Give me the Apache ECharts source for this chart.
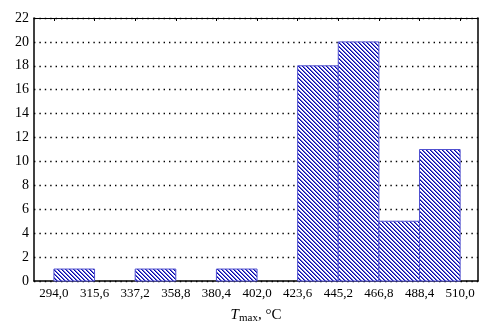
<!DOCTYPE html>
<html>
<head>
<meta charset="utf-8">
<script src="https://cdn.jsdelivr.net/npm/echarts@6/dist/echarts.min.js"></script>
<style>html,body{margin:0;padding:0;background:#fff;}#c{width:481px;height:329px;}</style>
</head>
<body>
<div id="c"></div>
<script>
// Data
var binStarts = [294.0, 315.6, 337.2, 358.8, 380.4, 402.0, 423.6, 445.2, 466.8, 488.4];
var binEnds   = [315.6, 337.2, 358.8, 380.4, 402.0, 423.6, 445.2, 466.8, 488.4, 510.0];
var counts    = [1, 0, 1, 0, 1, 0, 18, 20, 5, 11];
var xTickValues = [294.0, 315.6, 337.2, 358.8, 380.4, 402.0, 423.6, 445.2, 466.8, 488.4, 510.0];
var yMin = 0, yMax = 22, yStep = 2;

// hatch pattern
var pc = document.createElement('canvas');
pc.width = 4; pc.height = 4;
var pctx = pc.getContext('2d');
pctx.fillStyle = '#ffffff'; pctx.fillRect(0,0,4,4);
for (var y = 0; y < 4; y++) {
  for (var x = 0; x < 4; x++) {
    var d = ((x - y) % 4 + 4) % 4;
    if (d === 0) { pctx.fillStyle = '#0606a8'; pctx.fillRect(x,y,1,1); }
    else if (d === 1) { pctx.fillStyle = '#6a6ad8'; pctx.fillRect(x,y,1,1); }
  }
}

var data = [];
for (var i = 0; i < binStarts.length; i++) {
  if (counts[i] > 0) data.push([binStarts[i], binEnds[i], counts[i]]);
}

var serif = 'Liberation Serif, Times New Roman, serif';
function fmt(v){ return v.toFixed(1).replace('.', ','); }

var chart = echarts.init(document.getElementById('c'), null, {renderer: 'canvas'});
chart.setOption({
  animation: false,
  backgroundColor: '#fff',
  grid: {left: 34, right: 3, top: 18, bottom: 39, containLabel: false},
  xAxis: [{
    type: 'value', min: 283.4, max: 519.5, position: 'bottom',
    axisLine: {show: true, onZero: false, lineStyle: {color: '#000', width: 1.5}},
    axisTick: {show: false},
    splitLine: {show: false},
    axisLabel: {customValues: xTickValues, formatter: fmt, color: '#000', fontFamily: serif, fontSize: 13, margin: 6, showMinLabel: true, showMaxLabel: true},
    name: '{i|T}{s|max}{n|, °C}', nameLocation: 'middle', nameGap: 26,
    nameTextStyle: {rich: {
      i: {fontFamily: serif, fontStyle: 'italic', fontSize: 15, color: '#000'},
      s: {fontFamily: serif, fontSize: 11, color: '#000', verticalAlign: 'bottom', padding: [6,0,0,0]},
      n: {fontFamily: serif, fontSize: 15, color: '#000'}
    }}
  }, {
    type: 'value', min: 283.4, max: 519.5, position: 'top',
    axisLine: {show: true, onZero: false, lineStyle: {color: '#000', width: 1.2}},
    axisTick: {show: true, inside: true, length: 3, customValues: xTickValues, lineStyle: {color: '#000', width: 1}},
    axisLabel: {show: false},
    splitLine: {show: false}
  }],
  yAxis: [{
    type: 'value', min: yMin, max: yMax, interval: yStep, position: 'left',
    axisLine: {show: true, onZero: false, lineStyle: {color: '#000', width: 1.5}},
    axisTick: {show: false},
    axisLabel: {color: '#000', fontFamily: serif, fontSize: 14, margin: 5},
    splitLine: {show: true, lineStyle: {color: '#000', width: 1.4, type: [1.4, 4]}}
  }, {
    type: 'value', min: yMin, max: yMax, interval: yStep, position: 'right',
    axisLine: {show: true, onZero: false, lineStyle: {color: '#000', width: 1.5}},
    axisTick: {show: false}, axisLabel: {show: false}, splitLine: {show: false}
  }],
  series: [{
    type: 'custom',
    xAxisIndex: 0, yAxisIndex: 0,
    data: data,
    renderItem: function(params, api){
      var p0 = api.coord([api.value(0), api.value(2)]);
      var p1 = api.coord([api.value(1), 0]);
      return {
        type: 'rect',
        shape: {x: p0[0], y: p0[1], width: p1[0] - p0[0], height: p1[1] - p0[1]},
        style: {fill: {image: pc, repeat: 'repeat'}, stroke: '#5050d0', lineWidth: 1}
      };
    }
  }]
});
</script>
</body>
</html>
